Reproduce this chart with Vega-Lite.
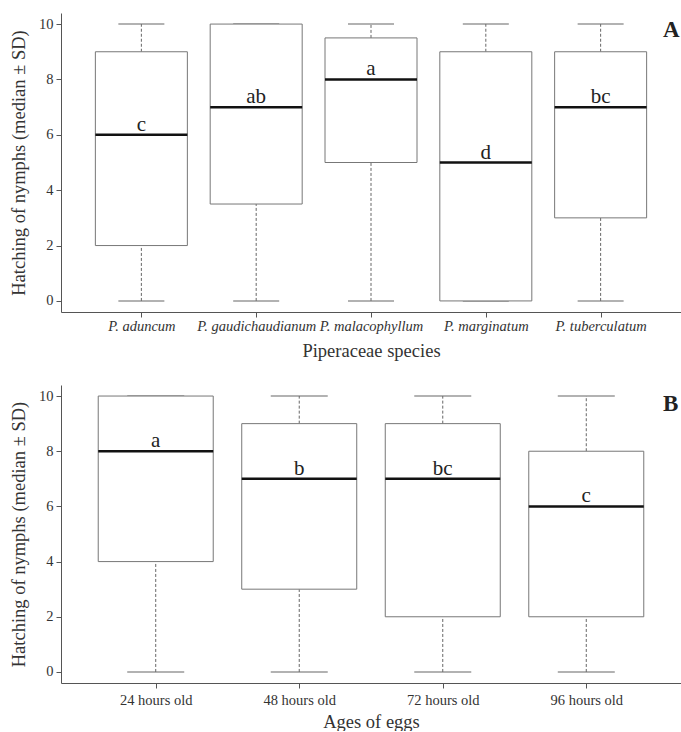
{
  "$schema": "https://vega.github.io/schema/vega-lite/v6.json",
  "background": "white",
  "padding": {"left": 9, "top": 13, "right": 0, "bottom": 0},
  "spacing": 25,
  "config": {
    "font": "Liberation Serif",
    "view": {"stroke": null},
    "axis": {
      "domainColor": "#555",
      "tickColor": "#555",
      "labelColor": "#333",
      "titleColor": "#333",
      "labelFont": "Liberation Serif",
      "titleFont": "Liberation Serif",
      "labelFontSize": 14.5,
      "titleFontSize": 18.5,
      "titleFontWeight": "normal",
      "grid": false,
      "tickSize": 5
    }
  },
  "vconcat": [
    {
      "width": 620,
      "height": 299,
      "data": {"values": [
        {"species": "P. aduncum", "min": 0, "q1": 2, "median": 6, "q3": 9, "max": 10, "letter": "c"},
        {"species": "P. gaudichaudianum", "min": 0, "q1": 3.5, "median": 7, "q3": 10, "max": 10, "letter": "ab"},
        {"species": "P. malacophyllum", "min": 0, "q1": 5, "median": 8, "q3": 9.5, "max": 10, "letter": "a"},
        {"species": "P. marginatum", "min": 0, "q1": 0, "median": 5, "q3": 9, "max": 10, "letter": "d"},
        {"species": "P. tuberculatum", "min": 0, "q1": 3, "median": 7, "q3": 9, "max": 10, "letter": "bc"}
      ]},
      "encoding": {
        "x": {"field": "species", "type": "nominal", "sort": null,
              "scale": {"type": "point", "padding": 0.7},
              "axis": {"title": "Piperaceae species", "labelAngle": 0, "labelFontStyle": "italic", "labelPadding": 2, "titlePadding": 9}}
      },
      "layer": [
        {"mark": {"type": "rule", "strokeDash": [3, 2], "color": "#666", "strokeWidth": 1},
         "encoding": {"y": {"field": "min", "type": "quantitative", "scale": {"domain": [-0.4, 10.4], "nice": false, "zero": false},
                            "axis": {"title": "Hatching of nymphs (median ± SD)", "values": [0, 2, 4, 6, 8, 10], "labelPadding": 3, "titlePadding": 10}},
                      "y2": {"field": "q1"}}},
        {"mark": {"type": "rule", "strokeDash": [3, 2], "color": "#666", "strokeWidth": 1},
         "encoding": {"y": {"field": "q3", "type": "quantitative"}, "y2": {"field": "max"}}},
        {"mark": {"type": "tick", "size": 46, "thickness": 1, "color": "#666", "opacity": 1},
         "encoding": {"y": {"field": "min", "type": "quantitative"}}},
        {"mark": {"type": "tick", "size": 46, "thickness": 1, "color": "#666", "opacity": 1},
         "encoding": {"y": {"field": "max", "type": "quantitative"}}},
        {"mark": {"type": "bar", "width": 92, "fill": "white", "stroke": "#777", "strokeWidth": 1, "opacity": 1},
         "encoding": {"y": {"field": "q1", "type": "quantitative"}, "y2": {"field": "q3"}}},
        {"mark": {"type": "tick", "size": 92, "thickness": 2.5, "color": "#111", "opacity": 1},
         "encoding": {"y": {"field": "median", "type": "quantitative"}}},
        {"mark": {"type": "text", "baseline": "alphabetic", "dy": -4, "fontSize": 21, "color": "#222", "font": "Liberation Serif"},
         "encoding": {"y": {"field": "median", "type": "quantitative"}, "text": {"field": "letter"}}},
        {"data": {"values": [{"panel": "A"}]},
         "mark": {"type": "text", "align": "right", "baseline": "alphabetic", "dx": 79, "fontSize": 23, "fontWeight": "bold", "color": "#222", "font": "Liberation Serif"},
         "encoding": {"x": {"datum": "P. tuberculatum"}, "y": {"datum": 9.53}, "text": {"field": "panel"}}}
      ]
    },
    {
      "width": 620,
      "height": 298,
      "data": {"values": [
        {"age": "24 hours old", "min": 0, "q1": 4, "median": 8, "q3": 10, "max": 10, "letter": "a"},
        {"age": "48 hours old", "min": 0, "q1": 3, "median": 7, "q3": 9, "max": 10, "letter": "b"},
        {"age": "72 hours old", "min": 0, "q1": 2, "median": 7, "q3": 9, "max": 10, "letter": "bc"},
        {"age": "96 hours old", "min": 0, "q1": 2, "median": 6, "q3": 8, "max": 10, "letter": "c"}
      ]},
      "encoding": {
        "x": {"field": "age", "type": "nominal", "sort": null,
              "scale": {"type": "point", "padding": 0.66},
              "axis": {"title": "Ages of eggs", "labelAngle": 0, "labelPadding": 5, "titlePadding": 6}}
      },
      "layer": [
        {"mark": {"type": "rule", "strokeDash": [3, 2], "color": "#666", "strokeWidth": 1},
         "encoding": {"y": {"field": "min", "type": "quantitative", "scale": {"domain": [-0.4, 10.4], "nice": false, "zero": false},
                            "axis": {"title": "Hatching of nymphs (median ± SD)", "values": [0, 2, 4, 6, 8, 10], "labelPadding": 3, "titlePadding": 10}},
                      "y2": {"field": "q1"}}},
        {"mark": {"type": "rule", "strokeDash": [3, 2], "color": "#666", "strokeWidth": 1},
         "encoding": {"y": {"field": "q3", "type": "quantitative"}, "y2": {"field": "max"}}},
        {"mark": {"type": "tick", "size": 57, "thickness": 1, "color": "#666", "opacity": 1},
         "encoding": {"y": {"field": "min", "type": "quantitative"}}},
        {"mark": {"type": "tick", "size": 57, "thickness": 1, "color": "#666", "opacity": 1},
         "encoding": {"y": {"field": "max", "type": "quantitative"}}},
        {"mark": {"type": "bar", "width": 115, "fill": "white", "stroke": "#777", "strokeWidth": 1, "opacity": 1},
         "encoding": {"y": {"field": "q1", "type": "quantitative"}, "y2": {"field": "q3"}}},
        {"mark": {"type": "tick", "size": 115, "thickness": 2.5, "color": "#111", "opacity": 1},
         "encoding": {"y": {"field": "median", "type": "quantitative"}}},
        {"mark": {"type": "text", "baseline": "alphabetic", "dy": -4, "fontSize": 21, "color": "#222", "font": "Liberation Serif"},
         "encoding": {"y": {"field": "median", "type": "quantitative"}, "text": {"field": "letter"}}},
        {"data": {"values": [{"panel": "B"}]},
         "mark": {"type": "text", "align": "right", "baseline": "alphabetic", "dx": 92, "fontSize": 23, "fontWeight": "bold", "color": "#222", "font": "Liberation Serif"},
         "encoding": {"x": {"datum": "96 hours old"}, "y": {"datum": 9.46}, "text": {"field": "panel"}}}
      ]
    }
  ]
}
